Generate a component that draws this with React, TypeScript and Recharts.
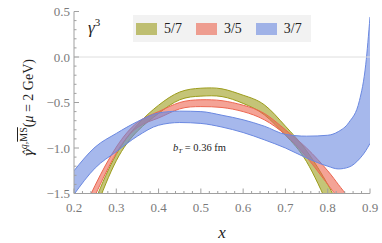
import { ComposedChart, Area, XAxis, YAxis, ReferenceLine, Legend } from 'recharts';

// x positions
const xs = [0.2, 0.25, 0.3, 0.35, 0.4, 0.45, 0.5, 0.55, 0.6, 0.65, 0.7, 0.75, 0.8, 0.825, 0.85, 0.875, 0.89, 0.9];

// 5/7 band
const olive57Upper = [-2.2, -1.58, -1.07, -0.745, -0.53, -0.385, -0.343, -0.35, -0.42, -0.525, -0.76, -1.03, -1.4, -1.63, -1.88, -2.15, -2.32, -2.44];
const olive57Lower = [-2.3, -1.69, -1.14, -0.815, -0.62, -0.47, -0.43, -0.435, -0.51, -0.635, -0.86, -1.15, -1.62, -1.85, -2.1, -2.38, -2.55, -2.67];

// 3/5 band
const red35Upper = [-1.91, -1.41, -0.99, -0.72, -0.6, -0.5, -0.47, -0.48, -0.53, -0.62, -0.8, -1.0, -1.25, -1.4, -1.55, -1.72, -1.83, -1.9];
const red35Lower = [-2.0, -1.52, -1.055, -0.775, -0.67, -0.57, -0.545, -0.555, -0.6, -0.69, -0.855, -1.1, -1.4, -1.55, -1.7, -1.88, -1.99, -2.07];

// 3/7 band
const blue37Upper = [-1.25, -0.99, -0.84, -0.71, -0.615, -0.595, -0.6, -0.64, -0.69, -0.76, -0.85, -0.87, -0.86, -0.82, -0.72, -0.48, -0.08, 0.44];
const blue37Lower = [-1.51, -1.22, -1.04, -0.87, -0.75, -0.72, -0.73, -0.77, -0.83, -0.91, -1.0, -1.11, -1.2, -1.23, -1.21, -1.12, -1.03, -0.95];

const xTicks = [0.2, 0.3, 0.4, 0.5, 0.6, 0.7, 0.8, 0.9];
const yTicks = [-1.5, -1.0, -0.5, 0.0, 0.5];

const series = [
  { key: 'a', name: '5/7', line: '#9c9c1c', fill: '#9c9c1c', curve: 'natural' },
  { key: 'b', name: '3/5', line: '#ec6650', fill: '#ec6650', curve: 'natural' },
  { key: 'c', name: '3/7', line: '#6a88e0', fill: '#6a88e0', curve: 'monotone' },
];

const data = xs.map((x, i) => ({
  x,
  a: [olive57Lower[i], olive57Upper[i]],
  b: [red35Lower[i], red35Upper[i]],
  c: [blue37Lower[i], blue37Upper[i]],
}));

const SERIF = "'Liberation Serif', 'DejaVu Serif', serif";
const HATFONT = "'DejaVu Serif', serif";
const FRAME = '#a0a0a0';
const TICKTXT = '#7a7a7a';

// minor tick positions (every 0.02 on x, every 0.1 on y)
const xMinor: number[] = [];
for (let i = 0; i <= 35; i++) xMinor.push(+(0.2 + i * 0.02).toFixed(2));
const yMinor: number[] = [];
for (let i = 0; i <= 20; i++) yMinor.push(+(-1.5 + i * 0.1).toFixed(1));

const near = (v: number, list: number[]) => list.some((t) => Math.abs(t - v) < 1e-6);
const fmt = (v: number) => (v < 0 ? '\u2212' : '') + Math.abs(v).toFixed(1);

const BottomTick = ({ x, y, payload }: any) => {
  const major = near(payload.value, xTicks);
  return (
    <g>
      <line x1={x} x2={x} y1={y} y2={y - (major ? 5 : 2.5)} stroke={FRAME} />
      {major && (
        <text x={x} y={y + 18} textAnchor="middle" fill={TICKTXT} fontSize={13} fontFamily={SERIF}>
          {payload.value.toFixed(1)}
        </text>
      )}
    </g>
  );
};

const TopTick = ({ x, y, payload }: any) => {
  const major = near(payload.value, xTicks);
  return <line x1={x} x2={x} y1={y} y2={y + (major ? 5 : 2.5)} stroke={FRAME} />;
};

const LeftTick = ({ x, y, payload }: any) => {
  const major = near(payload.value, yTicks);
  return (
    <g>
      <line x1={x} x2={x + (major ? 5 : 2.5)} y1={y} y2={y} stroke={FRAME} />
      {major && (
        <text x={x - 4} y={y + 4.5} textAnchor="end" fill={TICKTXT} fontSize={13} fontFamily={SERIF}>
          {fmt(payload.value)}
        </text>
      )}
    </g>
  );
};

const RightTick = ({ x, y, payload }: any) => {
  const major = near(payload.value, yTicks);
  return <line x1={x} x2={x - (major ? 5 : 2.5)} y1={y} y2={y} stroke={FRAME} />;
};

const LegendBox = () => (
  <div
    style={{
      background: '#f2f2f2',
      width: 178,
      height: 27,
      display: 'flex',
      alignItems: 'center',
      paddingLeft: 3,
      boxSizing: 'border-box',
      fontFamily: SERIF,
      fontSize: 14,
      color: '#222',
    }}
  >
    {series.map((s) => (
      <div key={s.key} style={{ display: 'flex', alignItems: 'center', marginRight: 14 }}>
        <div
          style={{
            width: 21,
            height: 12,
            background: s.fill,
            opacity: 0.6,
            boxSizing: 'border-box',
            border: `1px solid ${s.line}`,
          }}
        />
        <span style={{ marginLeft: 7 }}>{s.name}</span>
      </div>
    ))}
  </div>
);

export default function App() {
  return (
    <div style={{ position: 'absolute', left: 0, top: 0 }}>
      <ComposedChart width={382} height={243} data={data} margin={{ top: 11.5, right: 12, bottom: 0, left: 0 }}>
        <XAxis
          dataKey="x"
          type="number"
          domain={[0.2, 0.9]}
          allowDataOverflow
          ticks={xMinor}
          interval={0}
          tick={<BottomTick />}
          tickLine={false}
          tickSize={0}
          tickMargin={0}
          height={49.5}
          axisLine={{ stroke: FRAME }}
          label={{ value: 'x', position: 'insideBottom', offset: 5, fontFamily: SERIF, fontStyle: 'italic', fontSize: 17, fill: '#222' }}
        />
        <XAxis
          xAxisId="top"
          orientation="top"
          type="number"
          domain={[0.2, 0.9]}
          allowDataOverflow
          ticks={xMinor}
          interval={0}
          tick={<TopTick />}
          tickLine={false}
          tickSize={0}
          tickMargin={0}
          height={0}
          axisLine={{ stroke: FRAME }}
        />
        <YAxis
          type="number"
          domain={[-1.5, 0.5]}
          allowDataOverflow
          ticks={yMinor}
          interval={0}
          tick={<LeftTick />}
          tickLine={false}
          tickSize={0}
          tickMargin={0}
          width={74}
          axisLine={{ stroke: FRAME }}
        />
        <YAxis
          yAxisId="right"
          orientation="right"
          type="number"
          domain={[-1.5, 0.5]}
          allowDataOverflow
          ticks={yMinor}
          interval={0}
          tick={<RightTick />}
          tickLine={false}
          tickSize={0}
          tickMargin={0}
          width={0}
          axisLine={{ stroke: FRAME }}
        />
        <ReferenceLine y={0} stroke="#dedede" strokeWidth={1} />
        {series.map((s) => (
          <Area
            key={s.key}
            dataKey={s.key}
            name={s.name}
            type={s.curve as any}
            stroke={s.line}
            strokeWidth={1}
            fill={s.fill}
            fillOpacity={0.6}
            dot={false}
            activeDot={false}
            isAnimationActive={false}
          />
        ))}
        <Legend
          content={<LegendBox />}
          layout="horizontal"
          verticalAlign="middle"
          align="center"
          wrapperStyle={{ left: 133, top: 15, width: 178, height: 27 }}
        />
        <text x={88} y={33} fontSize={17} fill="#222" fontFamily={SERIF}>
          <tspan fontStyle="italic">γ</tspan>
          <tspan fontSize={11} dy={-7}>3</tspan>
        </text>
        <text x={173} y={151} fontSize={10.5} fill="#222" fontFamily={SERIF}>
          <tspan fontStyle="italic">b</tspan>
          <tspan fontStyle="italic" fontSize={7} dy={2}>T</tspan>
          <tspan dy={-2}> = 0.36 fm</tspan>
        </text>
        <text transform="rotate(-90)" x={-108} y={33} textAnchor="middle" fontSize={14} fill="#222" fontFamily={SERIF}>
          <tspan fontStyle="italic" fontFamily={HATFONT} fontSize={13}>γ̂</tspan>
          <tspan fontSize={10} dy={-6} fontStyle="italic">q,</tspan>
          <tspan fontSize={10} style={{ textDecoration: 'overline' }}>MS</tspan>
          <tspan dy={6}>(</tspan>
          <tspan fontStyle="italic">μ</tspan>
          <tspan> = 2 GeV)</tspan>
        </text>
      </ComposedChart>
    </div>
  );
}
